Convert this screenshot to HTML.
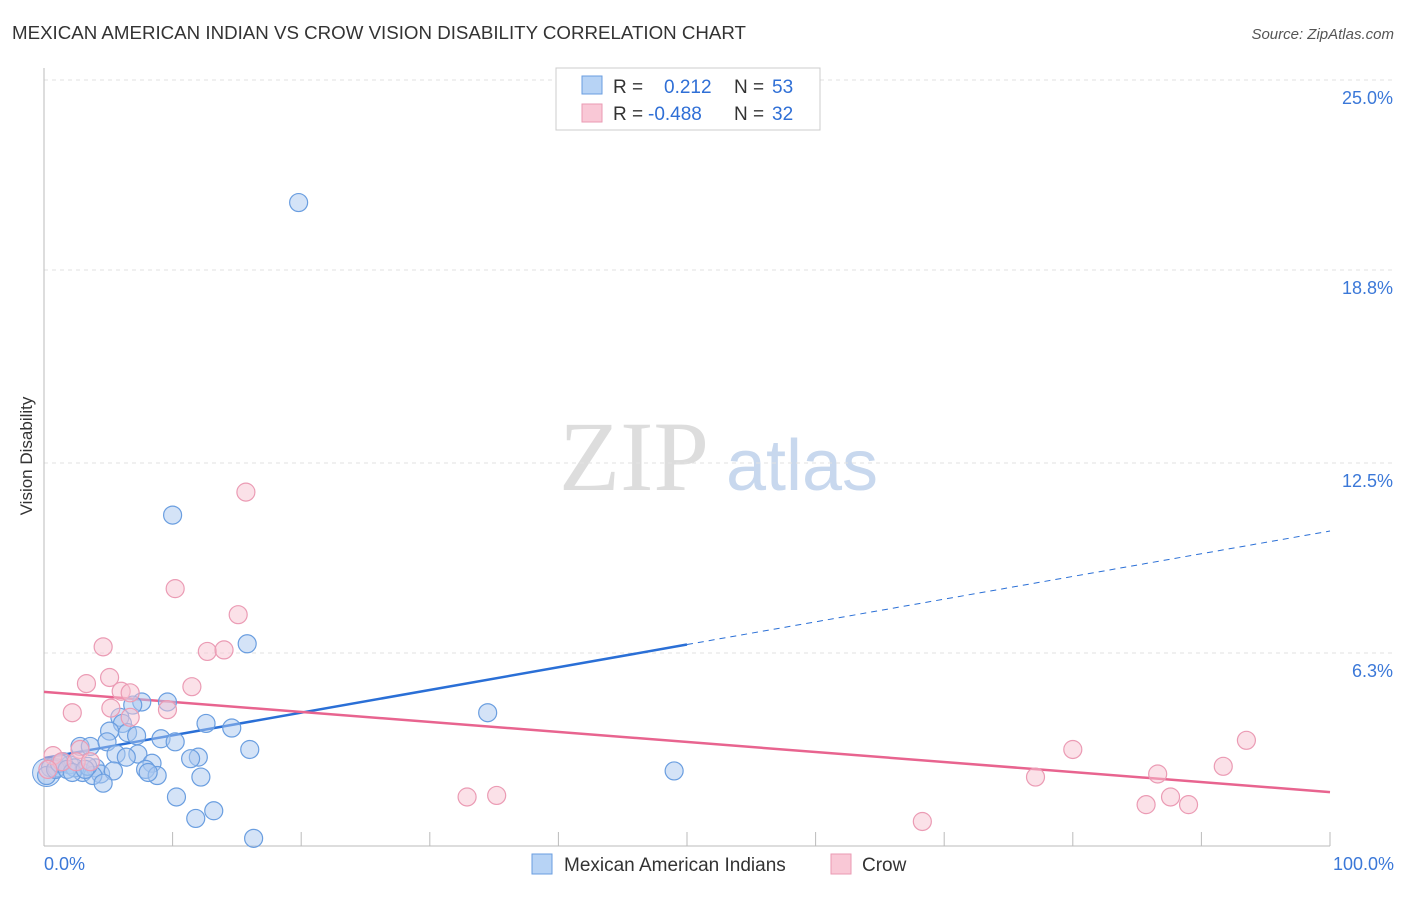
<!DOCTYPE html>
<html><head><meta charset="utf-8"><style>
body{margin:0;background:#fff;font-family:"Liberation Sans",sans-serif}
svg text{font-family:"Liberation Sans",sans-serif}
svg text.serif{font-family:"Liberation Serif",serif}
</style></head><body>
<svg id="c" width="1406" height="892">
<text x="12" y="39" font-size="18" fill="#333" textLength="734" lengthAdjust="spacingAndGlyphs">MEXICAN AMERICAN INDIAN VS CROW VISION DISABILITY CORRELATION CHART</text>
<text x="1394" y="39" font-size="15" fill="#555" text-anchor="end" font-style="italic">Source: ZipAtlas.com</text>
<text x="32" y="456" font-size="17" fill="#333" text-anchor="middle" transform="rotate(-90 32 456)">Vision Disability</text>
<g><text class="serif" x="634" y="490" font-size="100" fill="#ddd" text-anchor="middle">ZIP</text><text x="802" y="490" font-size="72" fill="#c8d8ee" text-anchor="middle">atlas</text></g>
<g id="grid"></g><g id="axes"></g><g id="lines"></g><g id="pts"></g>
<g>
<rect x="556" y="68" width="264" height="62" fill="#fff" stroke="#ccc"/>
<rect x="582" y="76" width="20" height="18" fill="#b7d3f5" stroke="#6a9ee0"/>
<rect x="582" y="104" width="20" height="18" fill="#f9c8d6" stroke="#ea9ab3"/>
<text x="613" y="93" font-size="19" fill="#333">R = </text><text x="664" y="93" font-size="19" fill="#2f6fd6">0.212</text>
<text x="734" y="93" font-size="19" fill="#333">N = </text><text x="772" y="93" font-size="19" fill="#2f6fd6">53</text>
<text x="613" y="120" font-size="19" fill="#333">R = </text><text x="648" y="120" font-size="19" fill="#2f6fd6">-0.488</text>
<text x="734" y="120" font-size="19" fill="#333">N = </text><text x="772" y="120" font-size="19" fill="#2f6fd6">32</text>
</g>
<g>
<rect x="532" y="854" width="20" height="20" fill="#b7d3f5" stroke="#6a9ee0"/>
<text x="564" y="871" font-size="19" fill="#333">Mexican American Indians</text>
<rect x="831" y="854" width="20" height="20" fill="#f9c8d6" stroke="#ea9ab3"/>
<text x="862" y="871" font-size="19" fill="#333">Crow</text>
</g>
<text x="44" y="870" font-size="18" fill="#3b78d8">0.0%</text>
<text x="1394" y="870" font-size="18" fill="#3b78d8" text-anchor="end">100.0%</text>
</svg>
<script>
const yTicks=[25,18.8,12.5,6.3];
const yTickLabels=["25.0%","18.8%","12.5%","6.3%"];
const blueX=[19.8,10.0,15.8,9.6,7.6,6.9,5.9,6.1,5.1,6.5,7.2,12.6,14.6,9.1,10.2,2.8,3.6,4.9,7.3,5.6,6.4,12.0,11.4,16.0,8.4,1.5,2.0,0.5,1.0,3.0,4.0,4.4,5.4,7.9,8.8,12.2,3.8,4.6,10.3,13.2,11.8,16.3,34.5,49.0,0.2,0.9,2.4,3.4,1.2,1.8,2.2,8.1,3.2];
const blueY=[21.0,10.8,6.6,4.7,4.7,4.6,4.2,4.0,3.75,3.7,3.6,4.0,3.85,3.5,3.4,3.25,3.25,3.4,3.0,3.0,2.9,2.9,2.85,3.15,2.7,2.75,2.65,2.55,2.55,2.4,2.55,2.35,2.45,2.5,2.3,2.25,2.3,2.05,1.6,1.15,0.9,0.25,4.35,2.45,2.3,2.5,2.55,2.6,2.7,2.5,2.4,2.4,2.5];
const pinkX=[15.7,10.2,15.1,4.6,12.7,14.0,5.1,3.3,6.0,6.7,11.5,2.2,5.2,6.7,9.6,2.8,0.7,1.4,2.5,32.9,35.2,68.3,77.1,80.0,86.6,85.7,87.6,89.0,91.7,93.5,3.6,0.3];
const pinkY=[11.55,8.4,7.55,6.5,6.35,6.4,5.5,5.3,5.05,5.0,5.2,4.35,4.5,4.2,4.45,3.15,2.95,2.75,2.75,1.6,1.65,0.8,2.25,3.15,2.35,1.35,1.6,1.35,2.6,3.45,2.75,2.5];
const blueTrend=[2.87,10.28];
const pinkTrend=[5.03,1.76];
const NS="http://www.w3.org/2000/svg";
const X=v=>44+v*12.86, Y=v=>846-v*30.64;
function mk(t,a,p){const e=document.createElementNS(NS,t);for(const k in a)e.setAttribute(k,a[k]);document.getElementById(p).appendChild(e);return e;}
yTicks.forEach((t,i)=>{
 const g=mk('line',{x1:44,x2:1394,y1:Y(t),y2:Y(t),stroke:'#e2e2e2','stroke-dasharray':'4,4'},'grid');
 
 
 const tx=mk('text',{x:1393,y:Y(t)+24,'font-size':18,fill:'#3b78d8','text-anchor':'end'},'grid');
 tx.textContent=yTickLabels[i];
 
 
});
const ax=mk('line',{x1:44,x2:44,y1:68,y2:846,stroke:'#bbb'},'axes');


const bx=mk('line',{x1:44,x2:1330,y1:846,y2:846,stroke:'#bbb'},'axes');


for(let i=1;i<=10;i++){const t=mk('line',{x1:X(i*10),x2:X(i*10),y1:846,y2:832,stroke:'#bbb'},'axes');
 
 }
function pts(xs,ys,f,s,n){xs.forEach((x,i)=>{const c=mk('circle',{cx:X(x),cy:Y(ys[i]),r:9,fill:f,'fill-opacity':0.5,stroke:s,'stroke-width':1.2},'pts');
 
 });}
const big=mk('circle',{cx:X(0.2),cy:Y(2.4),r:14,fill:'#a9c8f0','fill-opacity':0.5,stroke:'#6a9ee0'},'pts');


pts(blueX,blueY,'#a9c8f0','#6a9ee0','point-mexican');
pts(pinkX,pinkY,'#f7c3d2','#eb9bb4','point-crow');
const bv=x=>blueTrend[0]+(blueTrend[1]-blueTrend[0])*x/100;
const l1=mk('line',{x1:X(0),y1:Y(bv(0)),x2:X(50),y2:Y(bv(50)),stroke:'#2a6fd6','stroke-width':2.5},'lines');


const l2=mk('line',{x1:X(50),y1:Y(bv(50)),x2:X(100),y2:Y(bv(100)),stroke:'#2a6fd6','stroke-width':1,'stroke-dasharray':'6,5'},'lines');


const l3=mk('line',{x1:X(0),y1:Y(pinkTrend[0]),x2:X(100),y2:Y(pinkTrend[1]),stroke:'#e8648f','stroke-width':2.5},'lines');


</script>
</body></html>
